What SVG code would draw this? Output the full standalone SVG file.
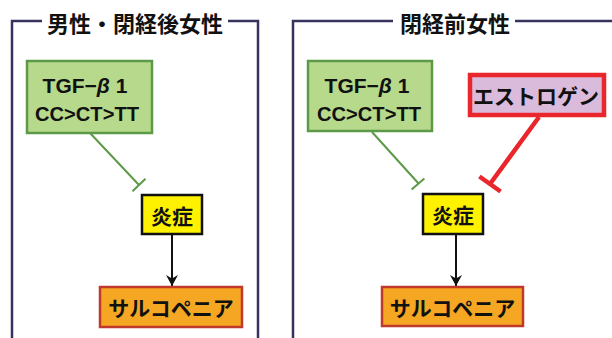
<svg xmlns="http://www.w3.org/2000/svg" width="612" height="338" viewBox="0 0 612 338">
<defs>
<style>
.frame{fill:none;stroke:#36345f;stroke-width:2.5}
.title{font-family:"Noto Sans CJK JP","Noto Sans",sans-serif;font-weight:bold;font-size:22px;fill:#111}
.tgf{fill:#b6d98c;stroke:#5c9a48;stroke-width:2.5}
.infl{fill:#fff200;stroke:#111;stroke-width:2.5}
.sarc{fill:#f5a623;stroke:#c0392b;stroke-width:2.5}
.est{fill:#dbbbdc;stroke:#e8262b;stroke-width:4.5}
.lat{font-family:"Liberation Sans",Arial,sans-serif;font-weight:bold;font-size:21px;fill:#111}
.jp{font-family:"Noto Sans CJK JP",sans-serif;font-weight:bold;font-size:21px;fill:#111}
.inhG{stroke:#5c9a48;stroke-width:2;fill:none}
.inhR{stroke:#e8262b;stroke-width:4.5;fill:none}
.act{stroke:#111;stroke-width:2;fill:none}
</style>
<marker id="arr" markerWidth="14" markerHeight="14" refX="11" refY="7" orient="auto" markerUnits="userSpaceOnUse">
<path d="M0,1 L11,7 L0,13 L3.5,7 Z" fill="#111"/>
</marker>
</defs>
<rect width="612" height="338" fill="#fff"/>

<g id="frame-left">
<path class="frame" d="M12,338 V21 H42 M228,21 H258 V338"/>
<text class="title" x="135" y="22" text-anchor="middle" dominant-baseline="central">男性・閉経後女性</text>
</g>
<g id="frame-right">
<path class="frame" d="M293,338 V21 H393 M515,21 H612"/>
<text class="title" x="455" y="22" text-anchor="middle" dominant-baseline="central">閉経前女性</text>
</g>

<g id="connectors">
<path class="inhG" d="M90,133 L139,185 M132.5,191.2 L145.5,178.8"/>
<path class="act" d="M172,234 V286" marker-end="url(#arr)"/>
<path class="inhG" d="M372,132 L419,184 M411.6,189.6 L424.4,178.4"/>
<path class="inhR" d="M539,117 L490,184 M479.4,176.5 L500.6,191.5"/>
<path class="act" d="M456,234 V286" marker-end="url(#arr)"/>
</g>

<g id="tgf-left">
<rect class="tgf" x="27" y="61" width="125" height="72"/>
<text class="lat" x="85" y="93" text-anchor="middle">TGF−<tspan font-style="italic">β</tspan> 1</text>
<text class="lat" x="87" y="121" text-anchor="middle" textLength="104" lengthAdjust="spacingAndGlyphs">CC&gt;CT&gt;TT</text>
</g>
<g id="inflammation-left">
<rect class="infl" x="142" y="195" width="60" height="39"/>
<text class="jp" x="172" y="214.5" text-anchor="middle" dominant-baseline="central">炎症</text>
</g>
<g id="sarcopenia-left">
<rect class="sarc" x="100" y="287" width="142" height="40"/>
<text class="jp" x="171" y="307" text-anchor="middle" dominant-baseline="central">サルコペニア</text>
</g>

<g id="tgf-right">
<rect class="tgf" x="308" y="61" width="124" height="70"/>
<text class="lat" x="367" y="93" text-anchor="middle">TGF−<tspan font-style="italic">β</tspan> 1</text>
<text class="lat" x="369" y="121" text-anchor="middle" textLength="104" lengthAdjust="spacingAndGlyphs">CC&gt;CT&gt;TT</text>
</g>
<g id="estrogen">
<rect class="est" x="470" y="75" width="134" height="40"/>
<text class="jp" x="536" y="95" text-anchor="middle" dominant-baseline="central">エストロゲン</text>
</g>
<g id="inflammation-right">
<rect class="infl" x="423" y="194" width="60" height="40"/>
<text class="jp" x="453" y="214" text-anchor="middle" dominant-baseline="central">炎症</text>
</g>
<g id="sarcopenia-right">
<rect class="sarc" x="382" y="287" width="141" height="39"/>
<text class="jp" x="452.5" y="306.5" text-anchor="middle" dominant-baseline="central">サルコペニア</text>
</g>
</svg>
